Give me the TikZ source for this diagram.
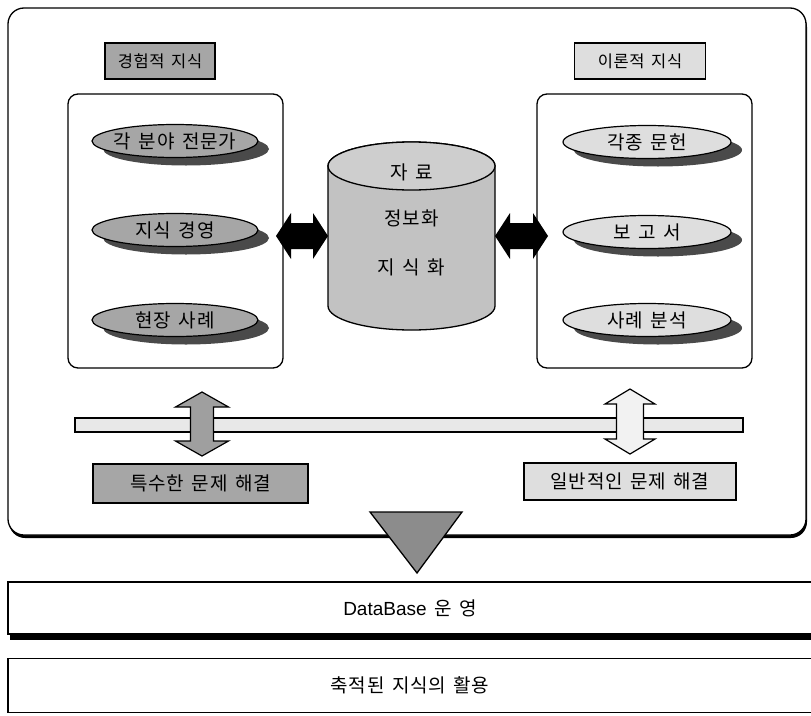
\documentclass[tikz,border=0pt]{standalone}
\usepackage{fontspec}
\setmainfont{Noto Sans CJK KR}[LetterSpace=4,WordSpace=1.5]
\newfontfamily\latinfont{Liberation Sans}
\usetikzlibrary{shapes.geometric,calc,shadows}
\definecolor{gdark}{HTML}{A6A6A6}
\definecolor{glight}{HTML}{DEDEDE}
\definecolor{gshadow}{HTML}{4A4A4A}
\definecolor{gcyl}{HTML}{C2C2C2}
\definecolor{gbar}{HTML}{E8E8E8}
\definecolor{gtri}{HTML}{8C8C8C}
% horizontal double block arrow: start, end, shaft half, head half, head length, style
\newcommand{\hdarrow}[6]{%
  \path[#6] let \p1=#1, \p2=#2 in
    (\x1,\y1) -- ({\x1+#5},{\y1+#4}) -- ({\x1+#5},{\y1+#3}) -- ({\x2-#5},{\y1+#3})
    -- ({\x2-#5},{\y1+#4}) -- (\x2,\y1) -- ({\x2-#5},{\y1-#4}) -- ({\x2-#5},{\y1-#3})
    -- ({\x1+#5},{\y1-#3}) -- ({\x1+#5},{\y1-#4}) -- cycle;}
% vertical double block arrow: top, bottom, shaft half, head half, head length, style
\newcommand{\vdarrow}[6]{%
  \path[#6] let \p1=#1, \p2=#2 in
    (\x1,\y1) -- ({\x1+#4},{\y1-#5}) -- ({\x1+#3},{\y1-#5}) -- ({\x1+#3},{\y2+#5})
    -- ({\x1+#4},{\y2+#5}) -- (\x1,\y2) -- ({\x1-#4},{\y2+#5}) -- ({\x1-#3},{\y2+#5})
    -- ({\x1-#3},{\y1-#5}) -- ({\x1-#4},{\y1-#5}) -- cycle;}
\begin{document}
\begin{tikzpicture}[x=1pt,y=-1pt,
  every node/.style={inner sep=0pt,outer sep=0pt},
  txt/.style={font=\fontsize{19}{22}\selectfont},
  smalltxt/.style={font=\fontsize{16.5}{20}\selectfont},
  tag/.style={draw=black,line width=1.1pt,minimum height=36pt},
  panel/.style={draw=black,line width=1.3pt,rounded corners=10pt,fill=white,minimum width=215pt,minimum height=274pt},
  oval/.style={ellipse,draw=black,line width=1.2pt,minimum width=166pt,minimum height=33pt,
    drop shadow={shadow xshift=11pt,shadow yshift=-8pt,fill=gshadow,opacity=1}},
  wide/.style={draw=black,line width=1.2pt,txt,minimum width=804pt}]
\useasboundingbox (0,0) rectangle (811,715);

% outer frame
\draw[line width=1.3pt,rounded corners=16pt,fill=white,
  drop shadow={shadow xshift=1pt,shadow yshift=-3pt,fill=black,opacity=1}]
  (8,8) rectangle (806,535);

% headings
\node[tag,smalltxt,fill=gdark,minimum width=110pt] (lab1) at (160,61) {경험적 지식};
\node[tag,smalltxt,fill=glight,minimum width=131pt] (lab2) at (640,61) {이론적 지식};

% panels
\node[panel] (lp) at (175.5,231) {};
\node[panel] (rp) at (644.5,231) {};

% left ovals
\node[oval,fill=gdark,label={[txt]center:각 분야 전문가}] (l1) at (175,141) {};
\node[oval,fill=gdark,label={[txt]center:지식 경영}] (l2) at (175,230) {};
\node[oval,fill=gdark,label={[txt]center:현장 사례}] (l3) at (175,320) {};
% right ovals
\node[oval,fill=glight,minimum width=168pt,label={[txt]center:각종 문헌}] (r1) at (647,142) {};
\node[oval,fill=glight,minimum width=168pt,label={[txt]center:보 고 서}] (r2) at (647,232) {};
\node[oval,fill=glight,minimum width=168pt,label={[txt]center:사례 분석}] (r3) at (647,320) {};

% cylinder
\node[minimum width=167pt,minimum height=188pt] (cyl) at (411.5,236) {};
\draw[line width=1.3pt,fill=gcyl] (328,166) -- (328,306)
  arc[start angle=180,end angle=360,x radius=83.5pt,y radius=24pt] -- (495,166)
  arc[start angle=0,end angle=180,x radius=83.5pt,y radius=24pt] -- cycle;
\draw[line width=1.3pt,fill=gcyl!80!white] (411.5,166) ellipse[x radius=83.5pt,y radius=24pt];
\node[txt] (c1) at (411.5,172) {자 료};
\node[txt] (c2) at (411.5,218) {정보화};
\node[txt] (c3) at (411.5,267) {지 식 화};

% black double arrows
\coordinate (la) at (276,236);
\coordinate (lb) at (cyl.west |- la);
\coordinate (ra) at (cyl.east |- la);
\coordinate (rb) at (548,236);
\hdarrow{(la)}{(lb)}{13pt}{23pt}{15pt}{fill=black}
\hdarrow{(ra)}{(rb)}{13pt}{23pt}{15pt}{fill=black}

% bar
\node[draw=black,line width=1.1pt,fill=gbar,minimum width=668pt,minimum height=14pt] (bar) at (409,425) {};

% bottom tags
\node[tag,txt,fill=gdark,minimum width=215pt,minimum height=39pt] (sp) at (200.5,483.5) {특수한 문제 해결};
\node[tag,txt,fill=glight,minimum width=212pt,minimum height=37pt] (gn) at (630,481.5) {일반적인 문제 해결};

% vertical double arrows
\coordinate (va) at (202,392);
\coordinate (vb) at (202,456);
\coordinate (wa) at (630,389);
\coordinate (wb) at (630,454);
\vdarrow{(va)}{(vb)}{11.5pt}{26.5pt}{15pt}{draw=black,line width=1.2pt,fill=gray!75}
\vdarrow{(wa)}{(wb)}{13.5pt}{25pt}{15pt}{draw=black,line width=1.2pt,fill=gray!10}

% triangle
\draw[line width=1.3pt,fill=gtri] (370,512) -- (462,512) -- (417,573) -- cycle;

% bottom bars
\fill[black] (10,633) rectangle (812,640);
\node[wide,fill=white,minimum height=52pt] (db) at (410,608) {{\latinfont DataBase} 운 영};
\node[wide,minimum height=54pt] (use) at (410,685.5) {축적된 지식의 활용};
\end{tikzpicture}
\end{document}
